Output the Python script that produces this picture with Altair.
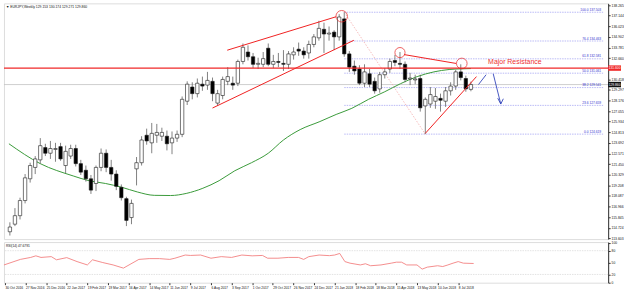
import altair as alt
import pandas as pd

# ---------------- data ----------------
weeks = list(range(92))
opens = [114.3, 115.1, 116.0, 117.6, 119.9, 121.1, 121.9, 123.2, 122.6, 123.0,
         123.3, 121.3, 122.3, 123.1, 121.5, 120.8, 119.9, 119.4, 121.1, 122.6,
         121.1, 120.4, 119.0, 117.8, 115.8, 120.95, 121.6, 124.5, 123.7, 124.5,
         124.4, 124.4, 123.7, 124.2, 124.6, 128.1, 129.6, 128.9, 129.9, 129.8,
         130.2, 127.9, 128.7, 130.2, 130.0, 130.0, 132.3, 133.3, 132.8, 132.0,
         132.0, 133.7, 132.0, 132.3, 132.1, 132.0, 133.0, 133.6, 133.4, 133.2,
         134.1, 134.8, 135.7, 135.2, 135.4, 134.9, 136.8, 133.1, 131.8, 131.5,
         130.0, 131.0, 130.2, 129.4, 130.9, 131.5, 132.4, 132.1, 132.0, 130.45,
         130.35, 130.5, 127.6, 127.8, 128.1, 128.4, 128.1, 129.2, 129.7, 131.2,
         130.5, 129.35]
highs = [115.3, 116.8, 117.9, 120.4, 121.6, 122.3, 124.2, 123.6, 123.9, 123.7,
         123.7, 123.4, 123.5, 123.5, 121.9, 121.3, 120.3, 121.3, 123.1, 123.0,
         121.9, 120.8, 119.3, 118.0, 117.7, 122.2, 124.4, 125.2, 125.8, 125.7,
         125.3, 125.0, 124.9, 125.0, 128.6, 130.2, 130.1, 130.5, 130.7, 131.2,
         130.6, 129.3, 130.7, 131.7, 130.7, 132.5, 134.2, 134.0, 133.2, 132.7,
         133.3, 134.2, 133.0, 133.2, 133.5, 133.4, 133.8, 134.3, 133.8, 134.5,
         135.2, 136.6, 136.4, 136.0, 135.6, 137.3, 137.5, 133.4, 132.4, 131.9,
         132.0, 131.5, 130.6, 131.2, 131.6, 132.6, 133.0, 133.3, 132.3, 131.1,
         130.9, 130.9, 128.5, 129.6, 129.5, 128.9, 129.6, 130.1, 131.4, 132.0,
         130.8, 130.17]
lows = [113.9, 114.9, 115.6, 117.3, 119.5, 120.4, 121.5, 122.3, 122.0, 121.7,
        121.8, 120.5, 122.0, 121.2, 120.3, 119.6, 118.3, 118.6, 120.7, 120.6,
        119.7, 118.7, 117.6, 114.9, 115.1, 119.2, 121.3, 123.5, 122.6, 123.7,
        123.9, 122.9, 122.5, 123.8, 124.3, 127.7, 128.3, 128.5, 129.2, 129.3,
        128.1, 127.6, 128.3, 129.8, 129.3, 129.7, 132.0, 132.4, 131.6, 131.5,
        131.7, 131.8, 131.6, 131.7, 131.3, 131.5, 132.5, 132.9, 132.6, 132.6,
        133.8, 134.5, 133.2, 134.5, 133.5, 134.5, 132.8, 131.2, 130.9, 129.8,
        129.6, 129.6, 128.9, 129.0, 130.5, 131.1, 131.8, 131.5, 130.1, 129.8,
        129.9, 127.0, 124.62, 127.4, 127.3, 127.0, 127.5, 128.7, 129.3, 130.3,
        129.1, 129.15]
closes = [114.8, 116.0, 117.6, 120.0, 121.3, 122.0, 123.4, 122.6, 123.1, 123.1,
          122.0, 122.8, 123.1, 121.5, 120.6, 119.9, 118.7, 121.1, 122.6, 121.1,
          120.4, 119.1, 117.9, 115.5, 117.3, 121.6, 124.0, 123.9, 124.7, 124.8,
          124.8, 123.6, 124.2, 124.6, 128.3, 129.9, 128.9, 130.0, 129.7, 130.3,
          128.9, 128.9, 130.4, 130.7, 129.8, 132.3, 133.8, 132.8, 132.0, 132.1,
          132.6, 132.0, 132.3, 132.2, 132.0, 133.1, 133.3, 133.4, 133.0, 134.1,
          134.9, 135.8, 135.2, 135.3, 134.9, 137.0, 133.1, 131.7, 131.3, 130.0,
          131.2, 129.9, 129.2, 130.9, 131.2, 132.3, 132.2, 132.0, 130.4, 130.55,
          130.45, 127.4, 128.3, 128.8, 128.6, 128.2, 129.2, 129.7, 131.2, 130.6,
          129.4, 129.86]

# moving average (week index, price)
ma_week = [-0.19, 6.0, 12.5, 15.6, 18.9, 22.1, 25.2, 28.5, 31.7, 34.8, 38.1, 41.3,
           44.4, 47.7, 51.0, 54.0, 57.3, 61.2, 64.4, 67.5, 70.8, 74.0, 77.1, 80.4,
           83.7, 86.7, 89.0, 91.0]
ma_value = [123.6, 121.5, 120.2, 119.7, 119.4, 119.0, 118.5, 118.15, 118.13, 118.35,
            118.9, 119.7, 120.75, 121.6, 122.6, 124.0, 125.1, 125.95, 126.7, 127.35,
            128.3, 129.1, 129.95, 130.7, 131.2, 131.45, 131.52, 131.55]

# RSI(14)
rsi_week = [-0.19, 3, 5, 6, 7, 9, 10, 12, 14, 16, 17, 19, 21, 23, 26, 28, 30, 32, 33,
            35, 36, 38, 40, 42, 44, 46, 48, 50, 51, 53, 55, 57, 58, 59, 61, 63, 64,
            65, 66, 67, 69, 70, 71, 73, 75, 76, 77, 78, 80, 81, 82, 84, 85, 86, 87,
            88, 89, 91]
rsi_value = [44, 58, 63, 67, 63, 65, 57, 62.5, 52.5, 44, 57, 50, 44, 36, 58, 60, 60,
             58, 61, 69, 68, 69, 61, 65, 63, 69, 67, 68, 61, 61, 63, 63, 58, 65, 69,
             67.5, 69, 73, 52.5, 48.5, 44, 47, 42, 44, 48.5, 51, 51, 44, 44, 33.5,
             38.5, 42, 40, 44, 48.5, 52.5, 48.5, 47.7]

date_labels = ["30 Oct 2016", "27 Nov 2016", "25 Dec 2016", "22 Jan 2017", "19 Feb 2017",
               "19 Mar 2017", "16 Apr 2017", "14 May 2017", "11 Jun 2017", "9 Jul 2017",
               "6 Aug 2017", "3 Sep 2017", "1 Oct 2017", "29 Oct 2017", "26 Nov 2017",
               "24 Dec 2017", "21 Jan 2018", "18 Feb 2018", "18 Mar 2018", "15 Apr 2018",
               "13 May 2018", "10 Jun 2018", "8 Jul 2018"]
date_weeks = list(range(0, 92, 4))

# axis labels (the one under the red price box is hidden by it)
price_ticks = [138.265, 137.144, 136.023, 134.902, 133.781, 132.660, 130.418,
               129.297, 128.176, 127.055, 125.934, 124.813, 123.692, 122.571, 121.450,
               120.329, 119.208, 118.087, 116.966, 115.845, 114.724, 113.603]

fib_levels = ["100.0", "76.4", "61.8", "50.0", "38.2", "23.6", "0.0"]
fib_prices = [137.503, 134.463, 132.581, 131.061, 129.541, 127.659, 124.619]
fib_start_week = 66
fib_end_week = 117.1

resistance = 131.600
bid = 129.860

# hand-drawn annotation segments (week index / price)
red_seg_x = [42.9, 40.0, 77.8, 82.0]
red_seg_y = [133.49, 127.38, 133.03, 124.70]
red_seg_x2 = [64.4, 67.9, 88.1, 92.1]
red_seg_y2 = [137.03, 134.54, 132.09, 130.70]

circle_x = [65.5, 77.0, 89.2]
circle_y = [137.08, 133.24, 132.09]
circle_size = [135, 105, 115]

blue_seg_x = [92.5, 95.4, 96.3, 97.4]
blue_seg_y = [129.86, 131.01, 128.42, 128.36]
blue_seg_x2 = [94.0, 96.9, 96.9, 96.9]
blue_seg_y2 = [130.90, 127.80, 127.80, 127.80]

fib_diag_x = [66, 82]
fib_diag_y = [137.503, 124.619]

header = "\u25BC EURJPY,Weekly  129.153 130.174 129.271 129.860"
rsi_header = "RSI(14) 47.6791"

# ---------------- chart ----------------
FONT = "Liberation Sans"
W = 610
H_MAIN = 238
H_RSI = 41

candles = pd.DataFrame({"i": weeks, "open": opens, "high": highs, "low": lows, "close": closes})
candles["bull"] = candles["close"] >= candles["open"]

xs = alt.Scale(domain=[-0.192, 117.115], nice=False, zero=False)
ys = alt.Scale(domain=[113.524, 138.442], nice=False, zero=False)

yaxis = alt.Axis(orient="right", values=price_ticks, format=".3f", title=None,
                 labelFontSize=3.4, labelFont=FONT, labelColor="#111",
                 tickSize=2, tickColor="#333", labelPadding=1, domainColor="#333",
                 grid=False, labelOverlap=False)

X = lambda f: alt.X(f, type="quantitative", scale=xs, axis=None)
Y = lambda f: alt.Y(f, type="quantitative", scale=ys, axis=yaxis)

base = alt.Chart(candles)

bid_line = alt.Chart(pd.DataFrame({"p": [bid]})).mark_rule(color="#c4c4c4", strokeWidth=0.8).encode(y=Y("p"))
res_line = alt.Chart(pd.DataFrame({"p": [resistance]})).mark_rule(color="#f02828", strokeWidth=1.1).encode(y=Y("p"))

fib_df = pd.DataFrame({"lvl": fib_levels, "p": fib_prices,
                       "x0": [fib_start_week] * 7, "x1": [fib_end_week] * 7})
fib_df["label"] = fib_df["lvl"] + " " + fib_df["p"].map(lambda v: f"{v:.3f}")
fib_lines = alt.Chart(fib_df).mark_rule(color="#9c9cf2", strokeWidth=0.7, strokeDash=[1.5, 1]).encode(
    x=X("x0"), x2="x1", y=Y("p"))
fib_text = alt.Chart(fib_df).mark_text(align="right", baseline="bottom", dy=-0.5, dx=-2,
                                       fontSize=3.3, font=FONT, color="#3535d0").encode(
    x=X("x1"), y=Y("p"), text="label")

diag = alt.Chart(pd.DataFrame({"x": fib_diag_x, "p": fib_diag_y})).mark_line(
    color="#f2a0a0", strokeWidth=0.7, strokeDash=[1.5, 1.5]).encode(x=X("x"), y=Y("p"))

ma = alt.Chart(pd.DataFrame({"x": ma_week, "p": ma_value})).mark_line(
    color="#3a9a3a", strokeWidth=1, interpolate="monotone").encode(x=X("x"), y=Y("p"))

wicks = base.mark_rule(color="#606060", strokeWidth=0.8).encode(x=X("i"), y=Y("low"), y2="high")
bodies = base.mark_bar(size=3.4, stroke="#1a1a1a", strokeWidth=0.6).encode(
    x=X("i"), y=Y("open"), y2="close",
    color=alt.Color("bull:N", scale=alt.Scale(domain=[True, False], range=["#ffffff", "#000000"]), legend=None))

red_df = pd.DataFrame({"x": red_seg_x, "y": red_seg_y, "x2": red_seg_x2, "y2": red_seg_y2})
red_lines = alt.Chart(red_df).mark_rule(color="#f02020", strokeWidth=1).encode(
    x=X("x"), y=Y("y"), x2="x2", y2="y2")

circ_df = pd.DataFrame({"x": circle_x, "y": circle_y, "s": circle_size})
circles = alt.Chart(circ_df).mark_point(shape="circle", filled=False, color="#e82020", strokeWidth=1).encode(
    x=X("x"), y=Y("y"), size=alt.Size("s:Q", scale=None, legend=None))

blue_df = pd.DataFrame({"x": blue_seg_x, "y": blue_seg_y, "x2": blue_seg_x2, "y2": blue_seg_y2})
blue_lines = alt.Chart(blue_df).mark_rule(color="#3344bb", strokeWidth=0.9).encode(
    x=X("x"), y=Y("y"), x2="x2", y2="y2")

major = alt.Chart(pd.DataFrame({"x": [94.4], "y": [132.25], "t": ["Major Resistance"]})).mark_text(
    align="left", baseline="middle", fontSize=7, font=FONT, color="#ee3030").encode(
    x=X("x"), y=Y("y"), text="t")

head = alt.Chart(pd.DataFrame({"t": [header]})).mark_text(
    align="left", baseline="top", fontSize=3.4, font=FONT, color="#111").encode(
    x=alt.value(2), y=alt.value(2), text="t")

box_df = pd.DataFrame({"p": [resistance, bid], "t": [f"{resistance:.3f}", f"{bid:.3f}"],
                       "c": ["#f02828", "#111111"]})
boxes = alt.Chart(box_df).mark_point(
    shape="M-1,-0.42L1,-0.42L1,0.42L-1,0.42Z", filled=True, opacity=1, size=169).encode(
    x=alt.value(W + 6.5), y=Y("p"), color=alt.Color("c:N", scale=None, legend=None))
box_text = alt.Chart(box_df).mark_text(fontSize=3.3, font=FONT, color="white").encode(
    x=alt.value(W + 6.5), y=Y("p"), text="t")

main = alt.layer(bid_line, fib_lines, fib_text, diag, ma, wicks, bodies, res_line,
                 red_lines, circles, blue_lines, major, head, boxes, box_text).properties(
    width=W, height=H_MAIN).resolve_scale(color="independent")

# ---------------- RSI panel ----------------
label_js = "[" + ",".join("'" + d + "'" for d in date_labels) + "]"
xaxis = alt.Axis(values=date_weeks, labelExpr=label_js + "[round(datum.value/4)]",
                 labelAlign="left", labelFontSize=3.3, labelFont=FONT, labelColor="#111",
                 tickSize=2, tickColor="#333", labelPadding=1, domain=False, grid=False,
                 title=None, labelOverlap=False, labelFlush=False)
rs = alt.Scale(domain=[-0.75, 101.75], nice=False, zero=False)
raxis = alt.Axis(orient="right", values=[0, 20, 50, 80, 100], title=None, labelFontSize=3.3,
                 labelFont=FONT, labelColor="#111", tickSize=2, tickColor="#333",
                 labelPadding=1, domainColor="#333", grid=False, labelOverlap=False)

levels = alt.Chart(pd.DataFrame({"v": [80, 20]})).mark_rule(
    color="#d6d6d6", strokeWidth=0.7, strokeDash=[1.5, 1]).encode(
    y=alt.Y("v:Q", scale=rs, axis=raxis))
rsi_line = alt.Chart(pd.DataFrame({"x": rsi_week, "v": rsi_value})).mark_line(
    color="#f38080", strokeWidth=0.9).encode(
    x=alt.X("x:Q", scale=xs, axis=xaxis), y=alt.Y("v:Q", scale=rs, axis=raxis))
rsi_head = alt.Chart(pd.DataFrame({"t": [rsi_header]})).mark_text(
    align="left", baseline="top", fontSize=3.3, font=FONT, color="#111").encode(
    x=alt.value(2), y=alt.value(2), text="t")

rsi = alt.layer(levels, rsi_line, rsi_head).properties(width=W, height=H_RSI)

chart = alt.vconcat(main, rsi, spacing=3, bounds="flush").properties(
    padding={"left": 1, "top": 1, "right": 0, "bottom": 0}
).configure_view(stroke="#9a9a9a", strokeWidth=1).configure(background="white")

chart.save("out.html", embed_options={"renderer": "svg", "actions": False})
